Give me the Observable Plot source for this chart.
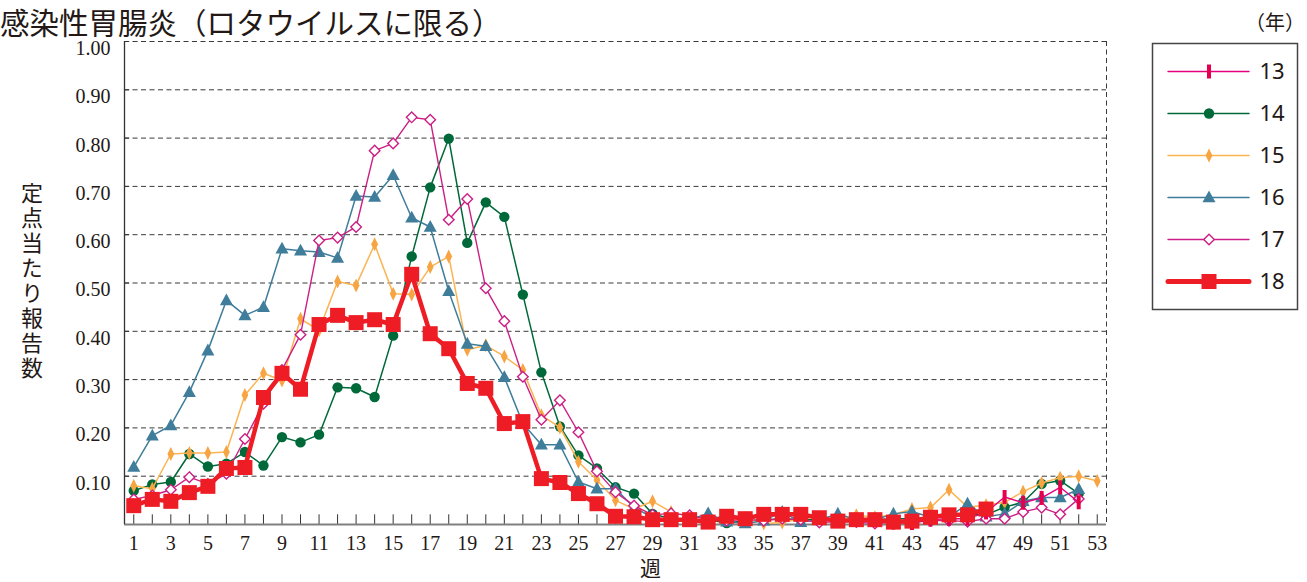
<!DOCTYPE html>
<html><head><meta charset="utf-8">
<script src="https://cdn.jsdelivr.net/npm/d3@7"></script>
<script src="https://cdn.jsdelivr.net/npm/@observablehq/plot@0.6"></script>
<style>
body{margin:0;background:#fff;}
#wrap{position:relative;width:1307px;height:582px;overflow:hidden;font-family:"Noto Sans CJK JP","Noto Sans",sans-serif;color:#231815;}
#title{position:absolute;left:0px;top:0px;font-size:29.5px;line-height:normal;white-space:nowrap;}
#unit{position:absolute;left:1245px;top:12px;font-size:20px;line-height:20px;white-space:nowrap;}
#ylab{position:absolute;left:16px;top:182px;font-size:22px;letter-spacing:3px;writing-mode:vertical-rl;white-space:nowrap;}
#xlab{position:absolute;left:640px;top:557px;font-size:21px;line-height:21px;}
#chart{position:absolute;left:0;top:0;}
#legend{position:absolute;left:1152px;top:43px;}
#chart svg text{font-weight:400;}
</style></head><body>
<div id="wrap">
<div id="chart"></div>
<div id="legend"></div>
<div id="title">感染性胃腸炎（ロタウイルスに限る）</div>
<div id="unit">（年）</div>
<div id="ylab">定点当たり報告数</div>
<div id="xlab">週</div>
</div>
<script>
// ---- data ----
const weeks = d3.range(1, 54);
const oddWeeks = weeks.filter(w => w % 2 === 1);
const yTicks = [0.1,0.2,0.3,0.4,0.5,0.6,0.7,0.8,0.9,1.0];
const seriesNames = ["13","14","15","16","17","18"];

// 2013: surveillance from week 42
const start13 = 42;
const v13 = [0.004,0.003,0.01,0.012,0.012,0.025,0.057,0.045,0.055,0.077,0.046];
const v14 = [0.07,0.083,0.088,0.146,0.12,0.126,0.15,0.122,0.181,0.17,0.186,0.284,0.282,0.264,0.391,0.555,0.698,0.799,0.583,0.667,0.637,0.476,0.315,0.203,0.143,0.116,0.077,0.064,0.022,0.012,0.01,0.01,0.003,0.008,0.01,0.012,0.01,0.01,0.008,0.01,0.01,0.012,0.012,0.015,0.018,0.02,0.02,0.036,0.046,0.084,0.091,0.064];
const v15 = [0.08,0.074,0.146,0.148,0.148,0.15,0.268,0.313,0.298,0.426,0.402,0.503,0.495,0.58,0.478,0.476,0.533,0.555,0.362,0.371,0.348,0.32,0.226,0.201,0.13,0.092,0.05,0.032,0.048,0.026,0.016,0.012,0.012,0.014,0.002,0.004,0.012,0.015,0.01,0.019,0.015,0.02,0.032,0.035,0.072,0.036,0.04,0.046,0.068,0.086,0.097,0.1,0.09];
const v16 = [0.119,0.184,0.205,0.274,0.36,0.464,0.433,0.45,0.571,0.567,0.564,0.552,0.68,0.678,0.723,0.635,0.616,0.483,0.374,0.369,0.305,0.209,0.165,0.165,0.088,0.074,0.074,0.035,0.015,0.01,0.01,0.023,0.006,0.002,0.008,0.026,0.005,0.01,0.022,0.01,0.01,0.022,0.027,0.015,0.015,0.043,0.016,0.022,0.048,0.056,0.056,0.073];
const v17 = [0.052,0.06,0.072,0.098,0.084,0.105,0.177,0.25,0.32,0.393,0.588,0.594,0.616,0.774,0.789,0.843,0.838,0.631,0.674,0.489,0.421,0.306,0.217,0.257,0.191,0.11,0.067,0.039,0.02,0.023,0.019,0.01,0.008,0.01,0.008,0.012,0.01,0.004,0.006,0.005,0.002,0.005,0.004,0.008,0.008,0.006,0.012,0.012,0.026,0.035,0.021,0.053];
const v18 = [0.039,0.052,0.048,0.066,0.079,0.116,0.118,0.263,0.313,0.28,0.414,0.433,0.418,0.424,0.414,0.518,0.395,0.364,0.292,0.282,0.209,0.213,0.095,0.087,0.064,0.043,0.017,0.016,0.01,0.01,0.01,0.005,0.017,0.012,0.021,0.021,0.021,0.014,0.007,0.01,0.01,0.005,0.007,0.015,0.02,0.02,0.032];

// ---- build table ----
const rows = [];
function add(series, startWeek, vals) { vals.forEach((v, i) => rows.push({series, week: startWeek + i, value: v})); }
add("13", start13, v13);
add("14", 1, v14);
add("15", 1, v15);
add("16", 1, v16);
add("17", 1, v17);
add("18", 1, v18);

// ---- styles ----
const sym = {
  bar: {draw(c){ c.rect(-2, -7, 4, 14); }},
  circle: {draw(c){ c.moveTo(5.2,0); c.arc(0,0,5.2,0,2*Math.PI); }},
  thinDiamond: {draw(c){ c.moveTo(0,-7); c.lineTo(3.4,0); c.lineTo(0,7); c.lineTo(-3.4,0); c.closePath(); }},
  triangle: {draw(c){ c.moveTo(0,-7); c.lineTo(6.5,4.8); c.lineTo(-6.5,4.8); c.closePath(); }},
  diamond: {draw(c){ c.moveTo(0,-5.3); c.lineTo(5.3,0); c.lineTo(0,5.3); c.lineTo(-5.3,0); c.closePath(); }},
  square: {draw(c){ c.rect(-7.5,-7.5,15,15); }}
};
const style = {
  "13": {line:"#e4007f", lw:1.4, symbol:sym.bar, fill:"#e6004c", stroke:"none", sw:0},
  "14": {line:"#00693a", lw:1.5, symbol:sym.circle, fill:"#00693a", stroke:"none", sw:0},
  "15": {line:"#fbb451", lw:1.5, symbol:sym.thinDiamond, fill:"#f7a443", stroke:"none", sw:0},
  "16": {line:"#3f7d9b", lw:1.5, symbol:sym.triangle, fill:"#3f7d9b", stroke:"none", sw:0},
  "17": {line:"#cc1f85", lw:1.4, symbol:sym.diamond, fill:"#ffffff", stroke:"#cc1f85", sw:1.4},
  "18": {line:"#ee1c25", lw:4.5, symbol:sym.square, fill:"#ee1c25", stroke:"none", sw:0}
};
const drawOrder = ["14","15","16","17","13","18"];

const seriesMarks = [];
for (const s of drawOrder) {
  const st = style[s];
  const data = rows.filter(r => r.series === s);
  seriesMarks.push(Plot.line(data, {x:"week", y:"value", stroke:st.line, strokeWidth:st.lw, strokeLinejoin:"round"}));
  seriesMarks.push(Plot.dot(data, {x:"week", y:"value", symbol:st.symbol, r:5, fill:st.fill, stroke:st.stroke, strokeWidth:st.sw}));
}

const chart = Plot.plot({
  width: 1307, height: 582,
  marginLeft: 124, marginRight: 201, marginTop: 41, marginBottom: 58,
  style: {background:"transparent", color:"#231815", overflow:"visible"},
  x: {domain:[0.5, 53.5]},
  y: {domain:[0, 1]},
  marks: [
    Plot.gridY(yTicks, {stroke:"#3a3a3a", strokeOpacity:1, strokeWidth:1, strokeDasharray:"5,3.5"}),
    Plot.ruleX([53.5], {stroke:"#3a3a3a", strokeWidth:1, strokeDasharray:"5,3.5"}),
    Plot.ruleX(weeks, {x: d => d, y1: 0, y2: 0.02, stroke:"#333", strokeWidth:1}),
    Plot.ruleY(yTicks, {y: d => d, x1: 0.5, x2: 0.78, stroke:"#333", strokeWidth:1}),
    Plot.ruleY([0], {stroke:"#808080", strokeWidth:2}),
    Plot.ruleX([0.5], {stroke:"#333", strokeWidth:1.3}),
    ...seriesMarks,
    Plot.axisY({ticks: yTicks, tickSize:0, tickPadding:14, tickFormat: d3.format(".2f"), fontSize:20, fontFamily:"Liberation Serif", fontWeight:400, dy:7, label:null}),
    Plot.axisX({ticks: oddWeeks, tickSize:0, tickPadding:11, fontSize:20, fontFamily:"Liberation Serif", fontWeight:400, label:null})
  ]
});
document.getElementById("chart").append(chart);

// ---- legend ----
const legendData = seriesNames.map(series => ({series}));
const legendMarks = [Plot.frame({stroke:"#444", strokeWidth:1.5})];
for (const s of seriesNames) {
  const st = style[s];
  const d = legendData.filter(r => r.series === s);
  legendMarks.push(Plot.ruleY(d, {y:"series", x1:16, x2:97, stroke:st.line, strokeWidth: s === "18" ? 5 : st.lw, strokeLinecap:"round"}));
  legendMarks.push(Plot.dot(d, {x: () => 56.5, y:"series", symbol:st.symbol, r:5, fill:st.fill, stroke:st.stroke, strokeWidth:st.sw}));
}
legendMarks.push(Plot.text(legendData, {x: () => 107, y:"series", text:"series", textAnchor:"start", fontSize:22, fontFamily:"Noto Sans", fill:"#231815"}));
const legend = Plot.plot({
  width: 145, height: 266,
  marginLeft:0, marginRight:0, marginTop:0, marginBottom:0,
  style:{background:"transparent", overflow:"visible"},
  x: {domain:[0,145], range:[0,145], axis:null},
  y: {type:"point", domain: seriesNames, range:[27, 239], padding:0, axis:null},
  marks: legendMarks
});
document.getElementById("legend").append(legend);
</script>
</body></html>
